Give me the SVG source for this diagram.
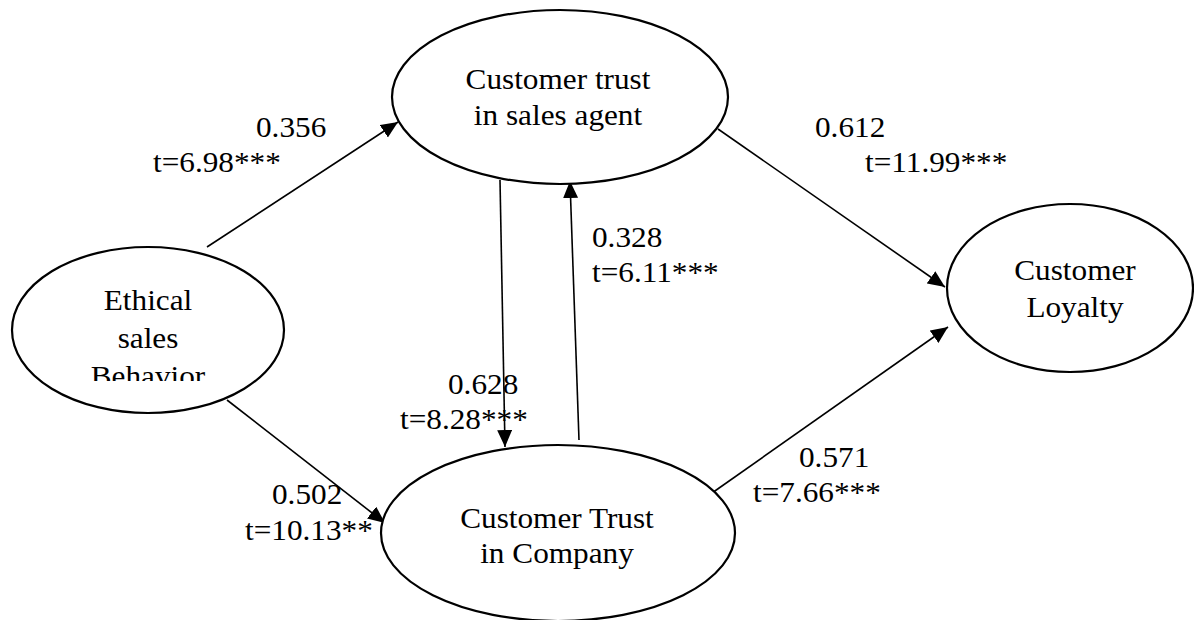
<svg xmlns="http://www.w3.org/2000/svg" width="1194" height="620" viewBox="0 0 1194 620">
<style>
.n{fill:#fff;stroke:#000;stroke-width:2.2}
.c{stroke:#000;stroke-width:1.6;fill:none;marker-end:url(#ah)}
text{font-family:"Liberation Serif","Times New Roman",serif;font-size:29.5px;fill:#000}
.m{text-anchor:middle}
</style>
<defs>
<marker id="ah" markerUnits="userSpaceOnUse" markerWidth="18" markerHeight="16" refX="17" refY="7.5" orient="auto">
<path d="M0,0 L17,7.5 L0,15 z" fill="#000"/>
</marker>
<clipPath id="clipE"><rect x="0" y="240" width="300" height="141"/></clipPath>
</defs>
<g id="connectors">
<line class="c" x1="207" y1="247" x2="398" y2="122"/>
<line class="c" x1="718" y1="129" x2="945" y2="287"/>
<line class="c" x1="712" y1="493" x2="948" y2="327"/>
<line class="c" x1="227" y1="400" x2="385" y2="523"/>
<line class="c" x1="500" y1="180" x2="505" y2="447"/>
<line class="c" x1="579" y1="440" x2="570" y2="181"/>
</g>
<g id="labels">
<text transform="matrix(1.06 0 0 1 256 137)">0.356</text>
<text transform="matrix(1.06 0 0 1 153 172)">t=6.98***</text>
<text transform="matrix(1.06 0 0 1 815 137)">0.612</text>
<text transform="matrix(1.06 0 0 1 865 172)">t=11.99***</text>
<text transform="matrix(1.06 0 0 1 592 247)">0.328</text>
<text transform="matrix(1.06 0 0 1 592 282)">t=6.11***</text>
<text transform="matrix(1.06 0 0 1 448 394)">0.628</text>
<text transform="matrix(1.06 0 0 1 400 429)">t=8.28***</text>
<text transform="matrix(1.06 0 0 1 272 504)">0.502</text>
<text transform="matrix(1.06 0 0 1 245 540)">t=10.13**</text>
<text transform="matrix(1.06 0 0 1 799 467)">0.571</text>
<text transform="matrix(1.06 0 0 1 753 502)">t=7.66***</text>
</g>
<g id="node-ethical">
<ellipse class="n" cx="148" cy="330" rx="136" ry="83"/>
<g clip-path="url(#clipE)">
<text class="m" transform="matrix(1.06 0 0 1 148 310)">Ethical</text>
<text class="m" transform="matrix(1.06 0 0 1 148 348)">sales</text>
<text class="m" transform="matrix(1.06 0 0 1 148 386)">Behavior</text>
</g>
</g>
<g id="node-agent">
<ellipse class="n" cx="560" cy="97" rx="168" ry="87"/>
<text class="m" transform="matrix(1.06 0 0 1 558 89)">Customer trust</text>
<text class="m" transform="matrix(1.06 0 0 1 558 125)">in sales agent</text>
</g>
<g id="node-company">
<ellipse class="n" cx="558" cy="533" rx="177" ry="88"/>
<text class="m" transform="matrix(1.06 0 0 1 557 528)">Customer Trust</text>
<text class="m" transform="matrix(1.06 0 0 1 557 563)">in Company</text>
</g>
<g id="node-loyalty">
<ellipse class="n" cx="1070" cy="288" rx="123" ry="84"/>
<text class="m" transform="matrix(1.06 0 0 1 1075 280)">Customer</text>
<text class="m" transform="matrix(1.06 0 0 1 1075 317)">Loyalty</text>
</g>
</svg>
